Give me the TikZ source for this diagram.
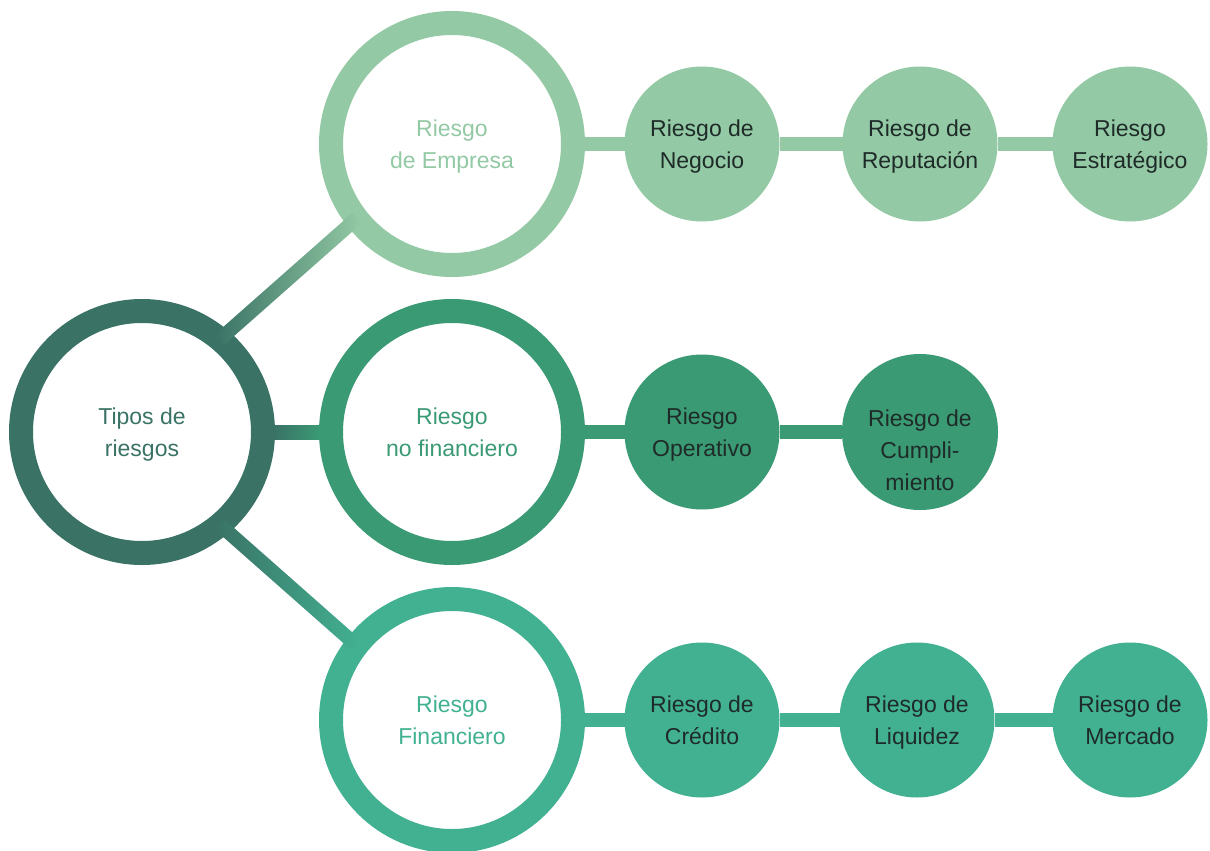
\documentclass[tikz,border=0pt]{standalone}
\usepackage{fontspec}
\setmainfont{Liberation Sans}
\usetikzlibrary{calc,backgrounds}

\definecolor{tiposcol}{HTML}{3A7366}
\definecolor{empcol}{HTML}{93C9A4}
\definecolor{nofincol}{HTML}{3A9A74}
\definecolor{fincol}{HTML}{42B192}
\definecolor{labelcol}{HTML}{1E2B28}

\tikzset{
  lbl/.style={align=center, font=\fontsize{23}{32}\selectfont,
    text depth=-4pt},
  ring/.style={circle, draw=#1, line width=24pt, fill=white, text=#1,
    minimum size=242pt, inner sep=0pt, outer sep=0pt, lbl},
  dot/.style={circle, fill=#1, text=labelcol, minimum size=155pt,
    inner sep=0pt, outer sep=0pt, lbl},
  link/.style={draw=#1, line width=14pt}
}

\begin{document}
\begin{tikzpicture}[x=1pt,y=-1pt]
  \useasboundingbox (0,0) rectangle (1210,851);

  % main rings
  \node[ring=tiposcol] (tipos) at (142,432) {Tipos de\\riesgos};
  \node[ring=empcol]   (empresa) at (452,144) {Riesgo\\de Empresa};
  \node[ring=nofincol] (nofin) at (452,432) {Riesgo\\no financiero};
  \node[ring=fincol]   (fin) at (452,720) {Riesgo\\Financiero};

  % risk bubbles, one row per family
  \node[dot=empcol] (negocio) at (702,144) {Riesgo de\\Negocio};
  \node[dot=empcol] (reputacion) at (920,144) {Riesgo de\\Reputación};
  \node[dot=empcol] (estrategico) at (1130,144) {Riesgo\\Estratégico};

  \node[dot=nofincol] (operativo) at (702,432) {Riesgo\\Operativo};
  % three lines, first line kept level with its neighbour
  \node[dot=nofincol, text height=117pt, text depth=0pt] (cumplimiento)
    at (920,432) {Riesgo de\\Cumpli-\\miento};

  \node[dot=fincol] (credito) at (702,720) {Riesgo de\\Crédito};
  \node[dot=fincol] (liquidez) at (917,720) {Riesgo de\\Liquidez};
  \node[dot=fincol] (mercado) at (1130,720) {Riesgo de\\Mercado};

  % plain links behind the bubbles
  \begin{scope}[on background layer]
    \draw[link=empcol] (empresa) -- (negocio) -- (reputacion) -- (estrategico);
    \draw[link=nofincol] (nofin) -- (operativo) -- (cumplimiento);
    \draw[link=fincol] (fin) -- (credito) -- (liquidez) -- (mercado);
  \end{scope}

  % shaded links out of the root
  \shade[left color=tiposcol, right color=nofincol]
    ($(tipos.east)+(12,-7)$) rectangle ($(nofin.west)+(-12,7)$);
  \shade[left color=tiposcol, right color=empcol]
    ($(tipos.50)!7pt!90:(empresa.218)$) -- ($(tipos.50)!7pt!-90:(empresa.218)$)
    -- ($(empresa.218)!7pt!90:(tipos.50)$) -- ($(empresa.218)!7pt!-90:(tipos.50)$)
    -- cycle;
  \shade[left color=tiposcol, right color=fincol]
    ($(tipos.-50)!7pt!90:(fin.142)$) -- ($(tipos.-50)!7pt!-90:(fin.142)$)
    -- ($(fin.142)!7pt!90:(tipos.-50)$) -- ($(fin.142)!7pt!-90:(tipos.-50)$)
    -- cycle;
\end{tikzpicture}
\end{document}
